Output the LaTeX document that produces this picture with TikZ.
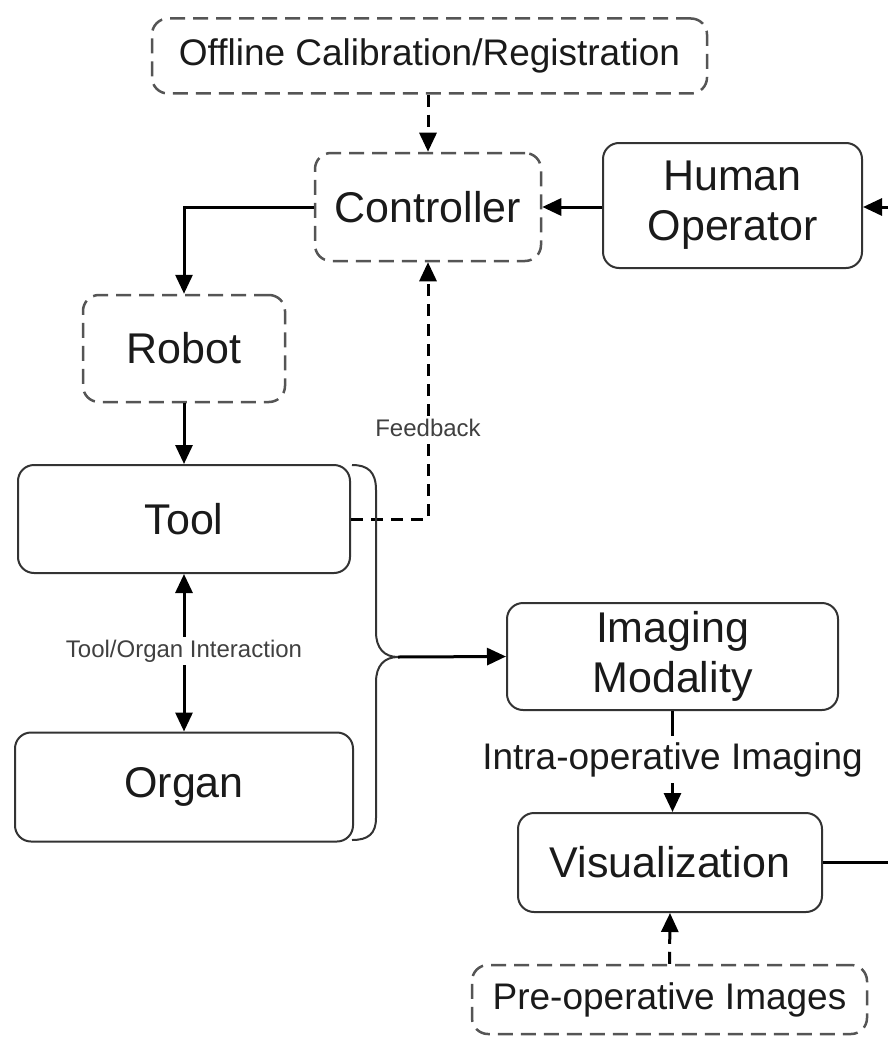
\documentclass[tikz,border=0pt]{standalone}
\usepackage{fontspec}
\setmainfont{Liberation Sans}
\usetikzlibrary{arrows.meta}
\definecolor{boxline}{HTML}{333333}
\definecolor{dashline}{HTML}{555555}
\definecolor{txt}{HTML}{1A1A1A}
\tikzset{
  solidbox/.style={draw=boxline, line width=2pt, rounded corners=16pt, inner sep=0pt, align=center, text=txt,
    font=\fontsize{43}{50}\selectfont},
  dashbox/.style={draw=dashline, line width=2.5pt, rounded corners=16pt, inner sep=0pt, align=center, text=txt,
    dash pattern=on 15pt off 8pt, font=\fontsize{43}{50}\selectfont},
  conn/.style={line width=3pt, draw=black},
  arr/.style={conn, -{Triangle[length=19pt,width=17pt]}},
  dasharr/.style={arr, dash pattern=on 12pt off 8pt},
  smalllabel/.style={fill=white, inner sep=3pt, text=black!75, font=\fontsize{24}{28}\selectfont},
  midlabel/.style={fill=white, inner xsep=2pt, inner ysep=6pt, text=txt, font=\fontsize{37}{42}\selectfont}
}
\begin{document}
\begin{tikzpicture}[x=1pt, y=-1pt]
\useasboundingbox (0,0) rectangle (888,1038);
% nodes
\node[dashbox, minimum width=555pt, minimum height=75pt, font=\fontsize{37}{42}\selectfont] (offline) at (429.5,56) {Offline Calibration/Registration};
\node[dashbox, minimum width=226pt, minimum height=108pt] (ctrl) at (428,207) {Controller};
\node[solidbox, minimum width=259pt, minimum height=125pt] (human) at (732.5,205.5) {Human\\Operator};
\node[dashbox, minimum width=202pt, minimum height=107pt] (robot) at (184,348.5) {Robot};
\node[solidbox, minimum width=332pt, minimum height=108pt] (tool) at (184,519) {Tool};
\node[solidbox, minimum width=338pt, minimum height=109pt] (organ) at (184,787) {Organ};
\node[solidbox, minimum width=331pt, minimum height=107pt] (imaging) at (672.5,656.5) {Imaging\\Modality};
\node[solidbox, minimum width=304pt, minimum height=99pt] (vis) at (670,862.5) {Visualization};
\node[dashbox, minimum width=395pt, minimum height=69pt, font=\fontsize{37}{42}\selectfont] (preop) at (669.5,999.5) {Pre-operative Images};
% free ends and brace
\coordinate (inR) at (888,207);
\coordinate (outR) at (888,862.5);
\coordinate (btip) at (398,657);
\coordinate (btop) at (352,465);
\coordinate (bbot) at (352,840);
% connectors
\draw[dasharr] (offline.south -| ctrl.north) -- (ctrl.north);
\draw[arr] (human.west |- ctrl.east) -- (ctrl.east);
\draw[arr] (inR) -- (inR -| human.east);
\draw[arr] (ctrl.west) -| (robot.north);
\draw[arr] (robot.south) -- (tool.north);
\draw[arr, {Triangle[length=19pt,width=17pt]}-{Triangle[length=19pt,width=17pt]}] (tool.south) -- node[smalllabel, pos=0.49] (toi) {Tool/Organ Interaction} (organ.north);
\draw[dasharr] (tool.east) -- (ctrl.south |- tool.east) -- node[smalllabel, pos=0.354] (fb) {Feedback} (ctrl.south);
% brace
\draw[line width=2pt, draw=boxline] (btop) .. controls (368,465) and (376,472) .. (376,490) -- (376,632)
  .. controls (376,648) and (384,657) .. (btip)
  .. controls (384,657) and (376,666) .. (376,682) -- (376,818)
  .. controls (376,834) and (368,840) .. (bbot);
\draw[arr] (btip) -- (imaging.west);
\draw[arr] (imaging.south) -- node[midlabel, pos=0.48] (intra) {Intra-operative Imaging} (imaging.south |- vis.north);
\draw[conn] (vis.east) -- (outR);
\draw[dasharr] (preop.north) -- (vis.south);
\end{tikzpicture}
\end{document}
